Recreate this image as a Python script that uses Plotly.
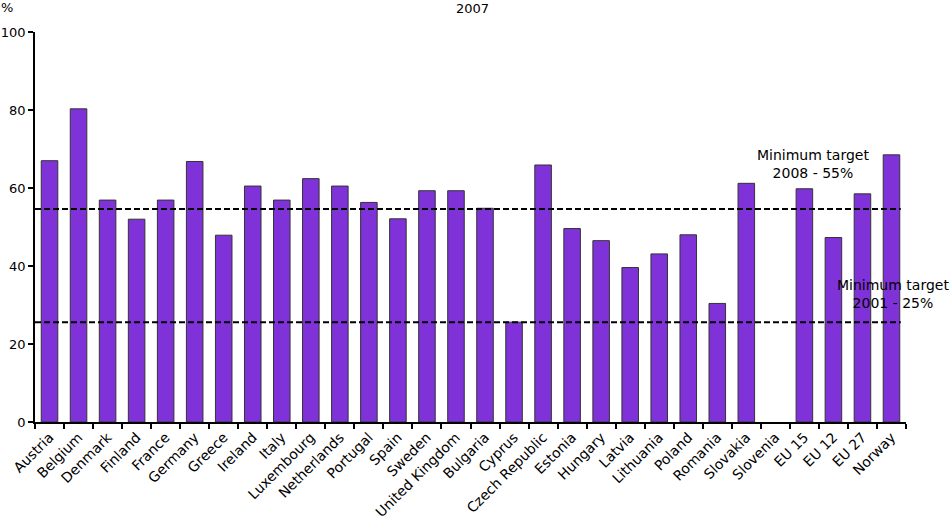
import plotly.graph_objects as go

categories = ["Austria", "Belgium", "Denmark", "Finland", "France", "Germany", "Greece",
              "Ireland", "Italy", "Luxembourg", "Netherlands", "Portugal", "Spain", "Sweden",
              "United Kingdom", "Bulgaria", "Cyprus", "Czech Republic", "Estonia", "Hungary",
              "Latvia", "Lithuania", "Poland", "Romania", "Slovakia", "Slovenia", "EU 15",
              "EU 12", "EU 27", "Norway"]
values = [67.0, 80.3, 56.9, 52.0, 56.9, 66.8, 47.9, 60.5, 56.9, 62.4, 60.5, 56.3, 52.1, 59.3,
          59.3, 54.8, 25.6, 65.9, 49.6, 46.5, 39.6, 43.1, 48.0, 30.4, 61.2, 0.0, 59.8,
          47.3, 58.5, 68.5]
target_values = [54.6, 25.6]
target_labels = ["Minimum target<br>2008 - 55%", "Minimum target<br>2001 - 25%"]
y_ticks = [0, 20, 40, 60, 80, 100]

FONT = "DejaVu Sans"
TXT = dict(family=FONT, size=13, color="black")
TXT14 = dict(family=FONT, size=14, color="black")

outline_widths = [1 if v > 0 else 0 for v in values]

fig = go.Figure()
fig.add_trace(go.Bar(
    x=categories, y=values,
    marker=dict(color="#8032d9", line=dict(color="#333333", width=outline_widths)),
    width=0.57,
    hoverinfo="skip",
))

for v in target_values:
    fig.add_shape(type="line", xref="paper", yref="y", x0=0, x1=0.994, y0=v, y1=v,
                  line=dict(color="black", width=2, dash="6px,3px"))

fig.add_annotation(x=0.893, y=0.662, xref="paper", yref="paper", xanchor="center",
                   yanchor="middle", text=target_labels[0], showarrow=False,
                   font=TXT14, align="center")
fig.add_annotation(x=0.985, y=0.328, xref="paper", yref="paper", xanchor="center",
                   yanchor="middle", text=target_labels[1], showarrow=False,
                   font=TXT14, align="center")
fig.add_annotation(x=0.502, y=1.0615, xref="paper", yref="paper", xanchor="center",
                   yanchor="middle", text="2007", showarrow=False, font=TXT)
fig.add_annotation(x=-0.032, y=1.064, xref="paper", yref="paper", xanchor="center",
                   yanchor="middle", text="%", showarrow=False, font=TXT)

fig.update_layout(
    width=950, height=519,
    margin=dict(l=35, r=44, t=32, b=97),
    paper_bgcolor="white", plot_bgcolor="white",
    showlegend=False,
    font=TXT,
)
fig.update_xaxes(
    tickangle=-45, tickson="boundaries", ticks="outside", ticklen=5, tickwidth=1.5,
    tickcolor="black", showline=True, linecolor="black", linewidth=1.5,
    showgrid=False, tickfont=TXT14, automargin=False,
)
fig.update_yaxes(
    range=[0, 100], tickvals=y_ticks, ticks="outside", ticklen=5, tickwidth=1.5,
    tickcolor="black", showline=True, linecolor="black", linewidth=1.5,
    showgrid=False, zeroline=False, tickfont=TXT, automargin=False,
)

fig.write_html(
    "out.html",
    config={"displayModeBar": False},
    post_script="document.body.style.margin='0';document.body.style.overflow='hidden';",
)
